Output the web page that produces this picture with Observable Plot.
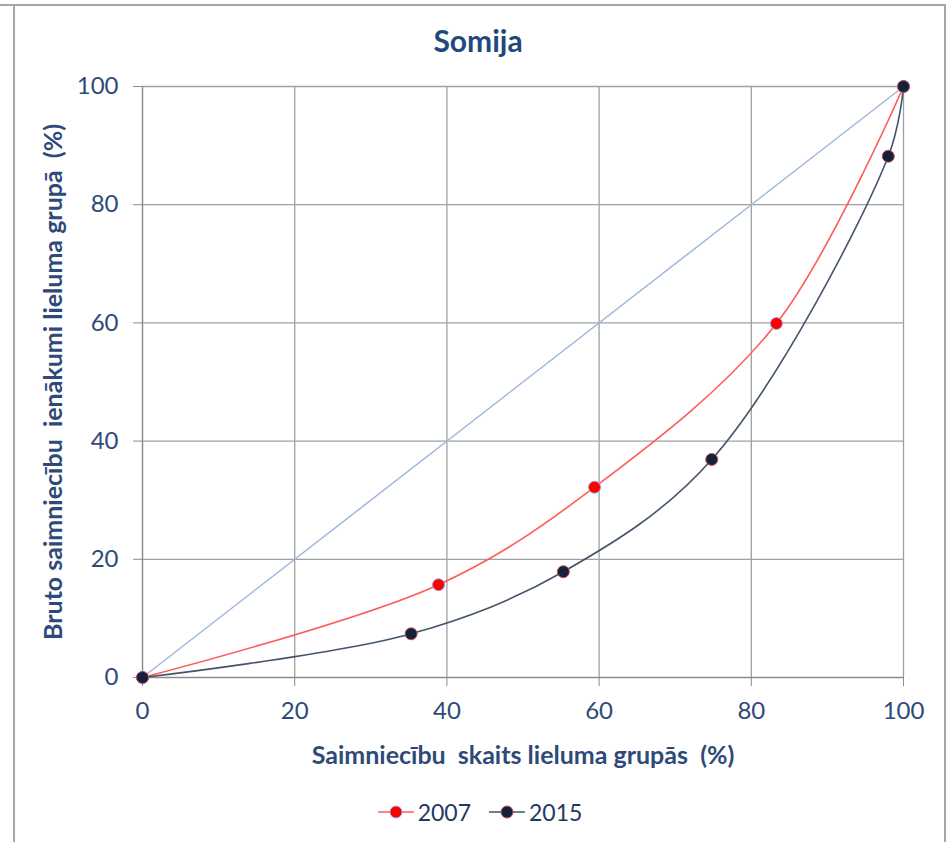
<!DOCTYPE html>
<html>
<head>
<meta charset="utf-8">
<script src="https://cdn.jsdelivr.net/npm/d3@7"></script>
<script src="https://cdn.jsdelivr.net/npm/@observablehq/plot@0.6"></script>
<style>
  html, body { margin: 0; padding: 0; background: #fff; width: 946px; height: 842px; overflow: hidden; }
  body { font-family: Lato, "Open Sans", sans-serif; position: relative; }
  #frame { position: absolute; left: 13px; top: 4px; width: 929px; height: 900px; border-left: 2px solid #A6A6A6; border-right: 2px solid #A6A6A6; border-top: 2px solid #A6A6A6; }
  #topline { position: absolute; left: 0; top: 4px; width: 14px; height: 2px; background: #A6A6A6; }
  #title { position: absolute; left: 0; top: 0; width: 956px; text-align: center; font-size: 30px; font-weight: bold; color: #1F497D; line-height: 80px; }
  #chart { position: absolute; left: 0; top: 62px; }
  #legend { position: absolute; left: 0; top: 798px; width: 946px; display: flex; justify-content: center; gap: 18px; font-size: 23px; color: #1F3864; padding-left: 14px; box-sizing: border-box; }
  .item { display: flex; align-items: center; gap: 4px; }
  #chart svg text { fill: #2E4A78; }
</style>
</head>
<body>
<div id="topline"></div>
<div id="frame"></div>
<div id="title">Somija</div>
<div id="chart"></div>
<div id="legend"></div>
<script>
const seriesNames = ["2007", "2015"];
const x2007 = [0, 38.9, 59.4, 83.3, 100];
const y2007 = [0, 15.7, 32.2, 59.9, 100];
const x2015 = [0, 35.3, 55.3, 74.8, 98.0, 100];
const y2015 = [0, 7.4, 17.9, 36.9, 88.2, 100];
const diagX = [0, 100];
const diagY = [0, 100];
const ticks = [0, 20, 40, 60, 80, 100];
const xLabel = "Saimniecību  skaits lieluma grupās  (%)";
const yLabel = "Bruto saimniecību  ienākumi lieluma grupā  (%)";

const colors = {"2007": {line: "#FF5A5A", fill: "#FF0000", stroke: "#8EA9DB"},
                "2015": {line: "#44546A", fill: "#13213F", stroke: "#C0504D"}};

const d2007 = x2007.map((x, i) => ({x, y: y2007[i], s: "2007"}));
const d2015 = x2015.map((x, i) => ({x, y: y2015[i], s: "2015"}));
const diag = diagX.map((x, i) => ({x, y: diagY[i]}));

const plot = Plot.plot({
  width: 946,
  height: 713,
  marginLeft: 142,
  marginRight: 43,
  marginTop: 24,
  marginBottom: 98,
  style: {fontFamily: "Lato, 'Open Sans', sans-serif", fontSize: "24px", background: "transparent"},
  x: {domain: [0, 100]},
  y: {domain: [0, 100]},
  marks: [
    Plot.gridX(ticks.filter(t => t > 0), {stroke: "#A0A0A0", strokeOpacity: 1, strokeWidth: 1.3}),
    Plot.gridY(ticks.filter(t => t > 0), {stroke: "#A0A0A0", strokeOpacity: 1, strokeWidth: 1.3}),
    Plot.ruleX([0], {stroke: "#8C8C8C", strokeWidth: 1.5}),
    Plot.ruleY([0], {stroke: "#8C8C8C", strokeWidth: 1.5}),
    Plot.axisX({ticks, tickSize: 9, tickPadding: 15, stroke: "#8C8C8C", label: null, fontSize: 24}),
    Plot.axisY({ticks, tickSize: 9, tickPadding: 15, stroke: "#8C8C8C", label: null, fontSize: 24}),
    Plot.line(diag, {x: "x", y: "y", stroke: "#9DB8DC", strokeWidth: 1.5}),
    Plot.line(d2007, {x: "x", y: "y", stroke: colors["2007"].line, strokeWidth: 1.6, curve: "catmull-rom"}),
    Plot.line(d2015, {x: "x", y: "y", stroke: colors["2015"].line, strokeWidth: 1.6, curve: "catmull-rom"}),
    Plot.dot(d2007, {x: "x", y: "y", r: 6, fill: colors["2007"].fill, stroke: colors["2007"].stroke, strokeWidth: 1}),
    Plot.dot(d2015, {x: "x", y: "y", r: 6, fill: colors["2015"].fill, stroke: colors["2015"].stroke, strokeWidth: 1}),
    // axis titles placed in frame-relative coordinates
    Plot.text([xLabel], {frameAnchor: "bottom", dy: 86, text: d => d, fontSize: 25, fontWeight: "bold", fill: "#1F3864", textAnchor: "middle"}),
    Plot.text([yLabel], {frameAnchor: "left", dx: -89, rotate: -90, text: d => d, fontSize: 25, fontWeight: "bold", fill: "#1F3864", textAnchor: "middle"})
  ]
});
document.getElementById("chart").appendChild(plot);

const legend = document.getElementById("legend");
seriesNames.forEach(s => {
  const item = document.createElement("div");
  item.className = "item";
  item.innerHTML = `<svg width="36" height="16"><line x1="0" x2="36" y1="8" y2="8" stroke="${colors[s].line}" stroke-width="1.6"/><circle cx="18" cy="8" r="6" fill="${colors[s].fill}" stroke="${colors[s].stroke}" stroke-width="1"/></svg><span>${s}</span>`;
  legend.appendChild(item);
});
</script>
</body>
</html>
